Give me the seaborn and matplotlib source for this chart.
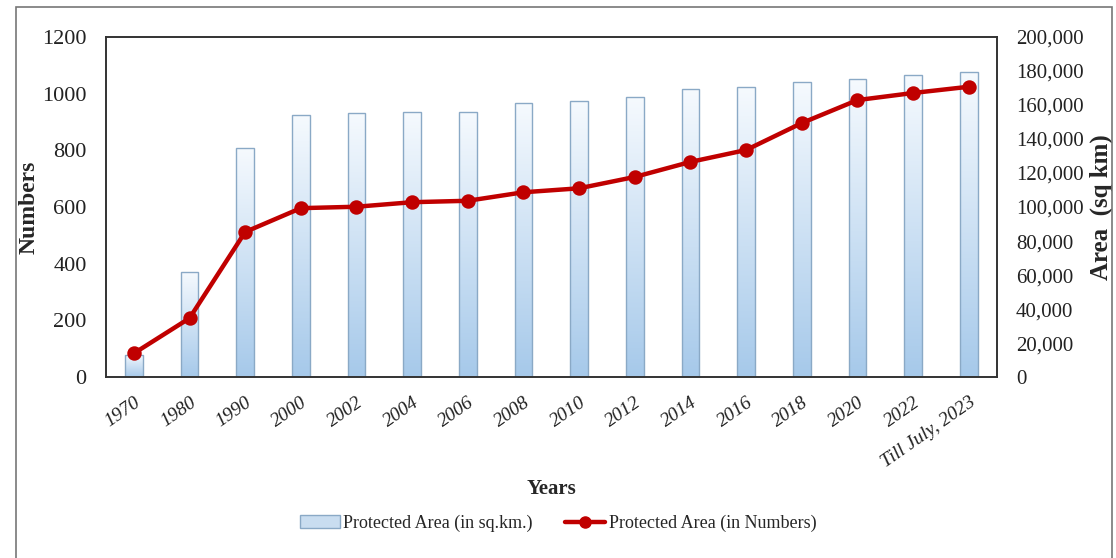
import matplotlib
matplotlib.use("Agg")
import matplotlib.pyplot as plt
import seaborn as sns
import numpy as np
import pandas as pd
from matplotlib.patches import Rectangle, Patch
from matplotlib.lines import Line2D
from matplotlib.colors import LinearSegmentedColormap

years = ["1970", "1980", "1990", "2000", "2002", "2004", "2006", "2008", "2010",
         "2012", "2014", "2016", "2018", "2020", "2022", "Till July, 2023"]
area_sqkm = [13000, 61800, 134700, 154100, 155300, 155900, 155900, 161200, 162400,
             164700, 169400, 170600, 173500, 175300, 177600, 179400]
pa_numbers = [84, 208, 512, 596, 601, 617, 622, 652, 666, 706, 759, 801, 896, 977, 1002, 1024]

left_ticks = [0, 200, 400, 600, 800, 1000, 1200]
right_ticks = list(range(0, 200001, 20000))

df = pd.DataFrame({"Year": years, "Area": area_sqkm, "Numbers": pa_numbers})

sns.set_theme(style="white")
plt.rcParams["font.family"] = ["Liberation Serif", "DejaVu Serif"]

fig = plt.figure(figsize=(11.16, 5.58), dpi=100)
ax = fig.add_axes([0.095, 0.324, 0.798, 0.61])
ax2 = ax.twinx()

# bars on right axis
sns.barplot(data=df, x="Year", y="Area", ax=ax2, color="#c9ddf0", width=0.32,
            edgecolor="#8aa9c6", linewidth=1.0, order=years)
grad = np.linspace(0, 1, 256).reshape(-1, 1)
cmap = LinearSegmentedColormap.from_list("g", ["#a6c9ea", "#f6fafe"])
for p in list(ax2.patches):
    x0, y0 = p.get_x(), p.get_y()
    w, h = p.get_width(), p.get_height()
    im = ax2.imshow(grad, extent=[x0, x0 + w, y0, y0 + h], origin="lower",
                    aspect="auto", cmap=cmap, zorder=p.get_zorder() + 0.1)
    im.set_clip_path(p)
    p.set_facecolor("none")
    p.set_zorder(p.get_zorder() + 0.2)
ax2.set_xlim(-0.5, len(years) - 0.5)
ax2.set_ylim(0, 200000)
ax2.set_yticks(right_ticks)
ax2.set_yticklabels([f"{v:,}" for v in right_ticks], fontsize=15)
ax2.set_ylabel("Area  (sq km)", fontsize=18, fontweight="bold", labelpad=4)

# line on left axis
ax.set_zorder(ax2.get_zorder() + 1)
ax.patch.set_visible(False)
sns.pointplot(data=df, x="Year", y="Numbers", ax=ax, color="#c00000", order=years,
              markers="o", markersize=8, linewidth=3.2)
ax.set_xlim(-0.5, len(years) - 0.5)
ax.set_ylim(0, 1200)
ax.set_yticks(left_ticks)
ax.set_yticklabels([str(v) for v in left_ticks], fontsize=16)
ax.set_ylabel("Numbers", fontsize=17, fontweight="bold", labelpad=2)
ax.set_xlabel("Years", fontsize=15, fontweight="bold")
ax.xaxis.set_label_coords(0.5, -0.30)
ax.set_xticks(range(len(years)))
ax.set_xticklabels(years, rotation=35, ha="right", fontsize=14, fontstyle="italic",
                   rotation_mode="anchor")
ax2.set_xlabel("")

ax.tick_params(axis="y", length=0, pad=14, colors="#222222")
ax.tick_params(axis="x", length=0, pad=12, colors="#222222")
ax2.tick_params(length=0, pad=14, colors="#222222")
for a in (ax, ax2):
    for s in a.spines.values():
        s.set_color("#333333")
        s.set_linewidth(1.2)

handles = [Patch(facecolor="#c9ddf0", edgecolor="#8aa9c6", label="Protected Area (in sq.km.)"),
           Line2D([0], [0], color="#c00000", lw=3.2, marker="o", markersize=8,
                  label="Protected Area (in Numbers)")]
fig.legend(handles=handles, loc="center", bbox_to_anchor=(0.5, 0.062), ncol=2,
           frameon=False, fontsize=13, handlelength=2.2, columnspacing=1.8, handletextpad=0.2)

fig.patches.append(Rectangle((0.014, -0.01), 0.982, 0.998, transform=fig.transFigure,
                             fill=False, edgecolor="#777777", linewidth=1.2))

fig.savefig("out.png", dpi=100)
